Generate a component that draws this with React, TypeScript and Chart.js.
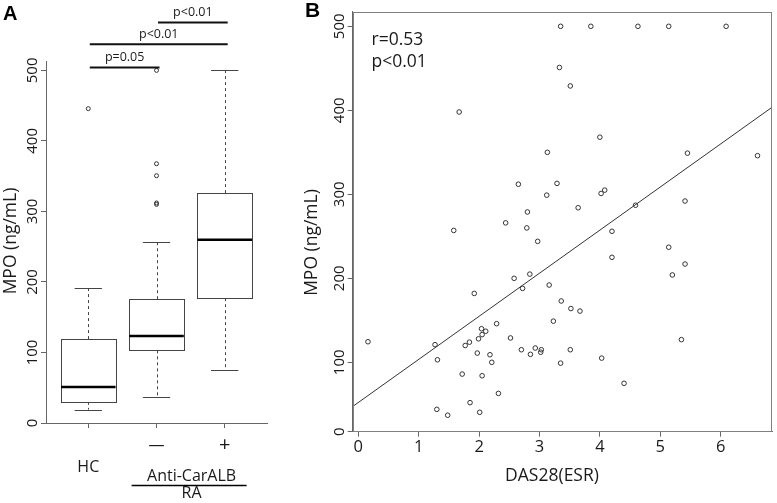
import React, { useEffect, useRef } from 'react';
import { Chart, registerables } from 'chart.js';

Chart.register(...registerables);

// ---------- Panel A: box plot ----------
const groupLabels = ['HC', '—', '+'];
const boxMin = [19, 36.5, 75];
const boxQ1 = [30, 103, 177];
const boxMedian = [51, 123.5, 260];
const boxQ3 = [119, 175.5, 326];
const boxMax = [192, 257, 500];
const outlierGroup = [1, 2, 2, 2, 2, 2];
const outlierValue = [445.7, 500, 367.6, 350.6, 312, 310];
const compFrom = [1, 1, 2];
const compTo = [2, 3, 3];
const compLevel = [504, 537, 568];
const compLabel = ['p=0.05', 'p<0.01', 'p<0.01'];
const yTicksA = [0, 100, 200, 300, 400, 500];

// ---------- Panel B: scatter ----------
const das28 = [
  3.35, 3.85, 4.63, 5.14, 6.09, 3.33, 3.51, 1.67, 4.0, 3.13,
  5.45, 6.61, 2.65, 3.29, 3.12, 4.08, 4.02, 5.41, 4.59, 3.64,
  2.8, 2.44, 2.79, 1.58, 4.2, 2.97, 5.14, 4.2, 5.41, 2.84,
  5.2, 2.58, 3.16, 2.72, 1.92, 3.36, 3.52, 3.67, 3.23, 2.29,
  2.04, 2.11, 2.05, 2.52, 1.99, 5.35, 0.16, 1.84, 1.27, 1.77,
  2.93, 2.7, 3.03, 3.51, 3.02, 1.97, 2.85, 2.18, 4.03, 1.31,
  2.21, 3.35, 1.72, 2.05, 4.4, 2.32, 1.85, 1.3, 2.01, 1.48,
];
const mpo = [
  500, 500, 500, 500, 500, 451, 429, 398, 368, 350,
  349, 346, 312, 313, 299, 305, 301, 292, 287, 284,
  279, 266, 260, 257, 256, 244, 237, 225, 217, 205,
  204, 200, 192, 188, 182, 173, 164, 161, 149, 146,
  140, 137, 133, 129, 128, 127, 124.5, 124, 121, 120,
  117, 115, 115, 115, 112, 111, 109.5, 109, 105, 103,
  100, 99, 86, 84, 75, 63, 52, 44, 40.5, 37,
];
const fitX = [-0.093, 6.85];
const fitY = [47.4, 403.6];
const xTicksB = [0, 1, 2, 3, 4, 5, 6];
const yMinB = 17.4;
const yMaxB = 517.4;
const yTickValuesB = [yMinB, 100, 200, 300, 400, 500];
const yTickLabelsB = ['0', '100', '200', '300', '400', '500'];

const FONT = '"Open Sans", "DejaVu Sans", sans-serif';
const AXIS_COLOR = '#666';
const TEXT_COLOR = '#1a1a1a';

function vText(ctx: CanvasRenderingContext2D, text: string, x: number, y: number) {
  ctx.save();
  ctx.translate(x, y);
  ctx.rotate(-Math.PI / 2);
  ctx.textAlign = 'center';
  ctx.textBaseline = 'middle';
  ctx.fillText(text, 0, 0);
  ctx.restore();
}

function BoxPanel() {
  const ref = useRef<HTMLCanvasElement>(null);
  useEffect(() => {
    const canvas = ref.current!;
    const boxPlugin = {
      id: 'boxA',
      beforeDatasetsDraw(chart: any) {
        const { ctx, scales } = chart;
        const x = scales.x, y = scales.y;
        ctx.save();
        for (let i = 0; i < groupLabels.length; i++) {
          const c = i + 1;
          const cx = x.getPixelForValue(c);
          const l = x.getPixelForValue(c - 0.4);
          const r = x.getPixelForValue(c + 0.4);
          const cl = x.getPixelForValue(c - 0.2);
          const cr = x.getPixelForValue(c + 0.2);
          const yMin = y.getPixelForValue(boxMin[i]);
          const yQ1 = y.getPixelForValue(boxQ1[i]);
          const yMed = y.getPixelForValue(boxMedian[i]);
          const yQ3 = y.getPixelForValue(boxQ3[i]);
          const yMax = y.getPixelForValue(boxMax[i]);
          ctx.strokeStyle = '#444';
          ctx.lineWidth = 1;
          ctx.setLineDash([3, 3]);
          ctx.beginPath();
          ctx.moveTo(Math.round(cx) + 0.5, yQ3);
          ctx.lineTo(Math.round(cx) + 0.5, yMax);
          ctx.moveTo(Math.round(cx) + 0.5, yQ1);
          ctx.lineTo(Math.round(cx) + 0.5, yMin);
          ctx.stroke();
          ctx.setLineDash([]);
          ctx.beginPath();
          ctx.moveTo(cl, Math.round(yMax) + 0.5);
          ctx.lineTo(cr, Math.round(yMax) + 0.5);
          ctx.moveTo(cl, Math.round(yMin) + 0.5);
          ctx.lineTo(cr, Math.round(yMin) + 0.5);
          ctx.stroke();
          ctx.fillStyle = '#fff';
          ctx.fillRect(l, yQ3, r - l, yQ1 - yQ3);
          ctx.strokeRect(Math.round(l) + 0.5, Math.round(yQ3) + 0.5, Math.round(r - l), Math.round(yQ1 - yQ3));
          ctx.strokeStyle = '#000';
          ctx.lineWidth = 2.5;
          ctx.beginPath();
          ctx.moveTo(l, yMed);
          ctx.lineTo(r, yMed);
          ctx.stroke();
        }
        ctx.restore();
      },
      afterDraw(chart: any) {
        const { ctx, scales, chartArea } = chart;
        const x = scales.x, y = scales.y;
        ctx.save();
        ctx.fillStyle = TEXT_COLOR;
        // y tick labels
        ctx.font = `15px ${FONT}`;
        for (const v of yTicksA) {
          vText(ctx, String(v), chartArea.left - 13, y.getPixelForValue(v));
        }
        // x labels
        ctx.textAlign = 'center';
        ctx.textBaseline = 'middle';
        ctx.font = `16px ${FONT}`;
        ctx.fillText(groupLabels[1], x.getPixelForValue(2), chartArea.bottom + 22.5);
        ctx.font = `20px ${FONT}`;
        ctx.fillText(groupLabels[2], x.getPixelForValue(3), chartArea.bottom + 22);
        ctx.font = `16px ${FONT}`;
        ctx.fillText(groupLabels[0], x.getPixelForValue(1), chartArea.bottom + 44.5);
        const mid = (x.getPixelForValue(2) + x.getPixelForValue(3)) / 2;
        ctx.fillText('Anti-CarALB', mid + 1, chartArea.bottom + 53.5);
        ctx.fillText('RA', mid + 1, chartArea.bottom + 70.5);
        ctx.strokeStyle = '#000';
        ctx.lineWidth = 1.5;
        ctx.beginPath();
        ctx.moveTo(mid - 59, chartArea.bottom + 62.5);
        ctx.lineTo(mid + 56, chartArea.bottom + 62.5);
        ctx.stroke();
        // y title
        ctx.font = `17.5px ${FONT}`;
        vText(ctx, 'MPO (ng/mL)', 11, 241);
        // comparison bars
        ctx.font = `12.5px ${FONT}`;
        ctx.lineWidth = 2;
        ctx.strokeStyle = '#111';
        for (let k = 0; k < compLevel.length; k++) {
          const x1 = x.getPixelForValue(compFrom[k]) + 1.5;
          const x2 = x.getPixelForValue(compTo[k]) + 3;
          const yy = y.getPixelForValue(compLevel[k]);
          ctx.beginPath();
          ctx.moveTo(x1, yy);
          ctx.lineTo(x2, yy);
          ctx.stroke();
          ctx.fillText(compLabel[k], (x1 + x2) / 2, yy - 10);
        }
        // panel label
        ctx.font = `bold 20px "Liberation Sans", Arial, sans-serif`;
        ctx.textAlign = 'left';
        ctx.textBaseline = 'alphabetic';
        ctx.fillStyle = '#000';
        ctx.fillText('A', 3, 20);
        ctx.restore();
      },
    };
    const chart = new Chart(canvas, {
      type: 'scatter',
      data: {
        datasets: [
          {
            data: outlierValue.map((v, i) => ({ x: outlierGroup[i], y: v })),
            pointRadius: 2,
            pointBorderWidth: 1,
            pointBorderColor: '#333',
            pointBackgroundColor: 'rgba(0,0,0,0)',
          },
        ],
      },
      options: {
        responsive: false,
        animation: false,
        events: [],
        layout: { padding: { top: 61.7, right: 33, left: 0, bottom: 0 } },
        plugins: { legend: { display: false }, tooltip: { enabled: false } },
        scales: {
          x: {
            type: 'linear',
            min: 0.38,
            max: 3.62,
            afterBuildTicks: (s: any) => {
              s.ticks = [1, 2, 3].map((v) => ({ value: v }));
            },
            afterFit: (s: any) => {
              s.height = 80;
            },
            ticks: { display: false },
            grid: { display: true, drawOnChartArea: false, drawTicks: true, tickLength: 5, color: AXIS_COLOR },
            border: { display: true, color: AXIS_COLOR, width: 1 },
          },
          y: {
            type: 'linear',
            min: 0,
            max: 512.3,
            afterBuildTicks: (s: any) => {
              s.ticks = yTicksA.map((v) => ({ value: v }));
            },
            afterFit: (s: any) => {
              s.width = 46;
            },
            ticks: { display: false },
            grid: { display: true, drawOnChartArea: false, drawTicks: true, tickLength: 5, color: AXIS_COLOR },
            border: { display: true, color: AXIS_COLOR, width: 1 },
          },
        },
      },
      plugins: [boxPlugin],
    } as any);
    return () => chart.destroy();
  }, []);
  return (
    <canvas
      ref={ref}
      width={300}
      height={503}
      style={{ position: 'absolute', left: 0, top: 0, width: 300, height: 503 }}
    />
  );
}

function ScatterPanel() {
  const ref = useRef<HTMLCanvasElement>(null);
  useEffect(() => {
    const canvas = ref.current!;
    const labelPlugin = {
      id: 'labelsB',
      afterDraw(chart: any) {
        const { ctx, scales, chartArea } = chart;
        const x = scales.x, y = scales.y;
        ctx.save();
        // frame
        ctx.strokeStyle = '#808080';
        ctx.lineWidth = 1;
        const L = Math.round(chartArea.left) + 0.5;
        const T = Math.round(chartArea.top) + 0.5;
        const R = Math.round(chartArea.right) - 0.5;
        const B = Math.round(chartArea.bottom) - 0.5;
        ctx.strokeRect(L, T, R - L, B - T);
        ctx.fillStyle = TEXT_COLOR;
        ctx.font = `15px ${FONT}`;
        for (let i = 0; i < yTickValuesB.length; i++) {
          vText(ctx, yTickLabelsB[i], chartArea.left - 13, y.getPixelForValue(yTickValuesB[i]));
        }
        ctx.textAlign = 'center';
        ctx.textBaseline = 'middle';
        ctx.font = `16.5px ${FONT}`;
        for (const v of xTicksB) {
          ctx.fillText(String(v), x.getPixelForValue(v), chartArea.bottom + 16);
        }
        ctx.font = `17.5px ${FONT}`;
        ctx.fillText('DAS28(ESR)', 252, 476);
        vText(ctx, 'MPO (ng/mL)', 12, 242.5);
        ctx.textAlign = 'left';
        ctx.textBaseline = 'alphabetic';
        ctx.fillText('r=0.53', 71.5, 45.3);
        ctx.fillText('p<0.01', 71.5, 67);
        ctx.font = `bold 21px "Liberation Sans", Arial, sans-serif`;
        ctx.fillStyle = '#000';
        ctx.fillText('B', 5, 16.7);
        ctx.restore();
      },
    };
    const chart = new Chart(canvas, {
      type: 'scatter',
      data: {
        datasets: [
          {
            data: das28.map((v, i) => ({ x: v, y: mpo[i] })),
            pointRadius: 2.3,
            pointBorderWidth: 1,
            pointBorderColor: '#333',
            pointBackgroundColor: 'rgba(0,0,0,0)',
          },
          {
            type: 'line',
            data: fitX.map((v, i) => ({ x: v, y: fitY[i] })),
            borderColor: '#333',
            borderWidth: 1,
            pointRadius: 0,
            showLine: true,
            fill: false,
          },
        ],
      },
      options: {
        responsive: false,
        animation: false,
        events: [],
        layout: { padding: { top: 11.7, right: 4.7, left: 0, bottom: 0 } },
        plugins: { legend: { display: false }, tooltip: { enabled: false } },
        scales: {
          x: {
            type: 'linear',
            min: -0.093,
            max: 6.85,
            afterBuildTicks: (s: any) => {
              s.ticks = xTicksB.map((v) => ({ value: v }));
            },
            afterFit: (s: any) => {
              s.height = 71.3;
            },
            ticks: { display: false },
            grid: { display: true, drawOnChartArea: false, drawTicks: true, tickLength: 5, color: AXIS_COLOR },
            border: { display: true, color: AXIS_COLOR, width: 1 },
          },
          y: {
            type: 'linear',
            min: yMinB,
            max: yMaxB,
            afterBuildTicks: (s: any) => {
              s.ticks = yTickValuesB.map((v) => ({ value: v }));
            },
            afterFit: (s: any) => {
              s.width = 52.7;
            },
            ticks: { display: false },
            grid: { display: true, drawOnChartArea: false, drawTicks: true, tickLength: 5, color: AXIS_COLOR },
            border: { display: true, color: AXIS_COLOR, width: 1 },
          },
        },
      },
      plugins: [labelPlugin],
    } as any);
    return () => chart.destroy();
  }, []);
  return (
    <canvas
      ref={ref}
      width={477}
      height={503}
      style={{ position: 'absolute', left: 300, top: 0, width: 477, height: 503 }}
    />
  );
}

export default function App() {
  return (
    <div style={{ position: 'absolute', left: 0, top: 0, width: 777, height: 503, background: '#fff', overflow: 'hidden' }}>
      <BoxPanel />
      <ScatterPanel />
    </div>
  );
}
